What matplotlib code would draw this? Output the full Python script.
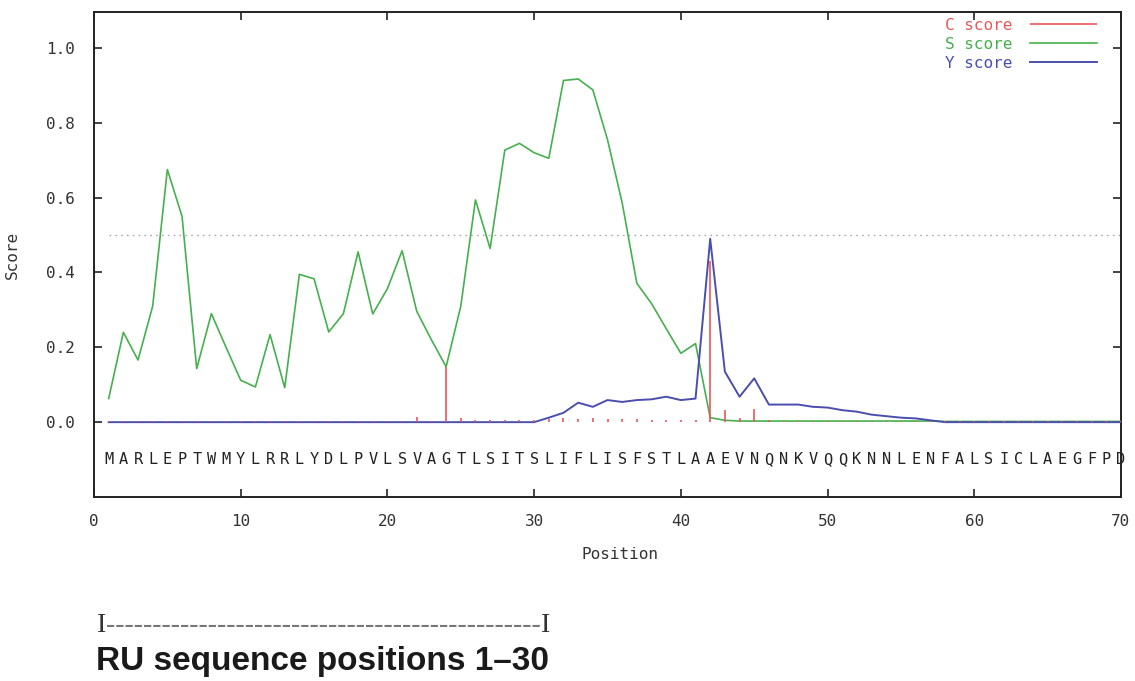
import matplotlib
matplotlib.use("Agg")
import matplotlib.pyplot as plt
import numpy as np

# ---------------- data ----------------
sequence = "MARLEPTWMYLRRLYDLPVLSVAGTLSITSLIFLISFSTLAAEVNQNKVQQKNNLENFALSICLAEGFPD"
positions = list(range(1, 71))

s_score = [0.063, 0.240, 0.166, 0.310, 0.675, 0.550, 0.143, 0.290, 0.200, 0.112,
           0.094, 0.234, 0.092, 0.395, 0.383, 0.241, 0.290, 0.455, 0.289, 0.357,
           0.458, 0.296, 0.220, 0.148, 0.310, 0.594, 0.464, 0.727, 0.745, 0.720,
           0.705, 0.913, 0.917, 0.888, 0.755, 0.586, 0.371, 0.317, 0.250, 0.184,
           0.210, 0.012, 0.005, 0.003, 0.003, 0.003, 0.003, 0.003, 0.003, 0.003,
           0.003, 0.003, 0.003, 0.003, 0.003, 0.003, 0.003, 0.002, 0.002, 0.002,
           0.002, 0.002, 0.002, 0.002, 0.002, 0.002, 0.002, 0.002, 0.002, 0.002]

y_score = [0.0, 0.0, 0.0, 0.0, 0.0, 0.0, 0.0, 0.0, 0.0, 0.0,
           0.0, 0.0, 0.0, 0.0, 0.0, 0.0, 0.0, 0.0, 0.0, 0.0,
           0.0, 0.0, 0.0, 0.0, 0.0, 0.0, 0.0, 0.0, 0.0, 0.0,
           0.012, 0.025, 0.052, 0.041, 0.059, 0.054, 0.059, 0.061, 0.068, 0.059,
           0.063, 0.490, 0.135, 0.068, 0.117, 0.047, 0.047, 0.047, 0.041, 0.039,
           0.032, 0.028, 0.020, 0.016, 0.012, 0.010, 0.005, 0.0, 0.0, 0.0,
           0.0, 0.0, 0.0, 0.0, 0.0, 0.0, 0.0, 0.0, 0.0, 0.0]

c_score = [0.003, 0.003, 0.003, 0.003, 0.003, 0.003, 0.003, 0.003, 0.003, 0.003,
           0.003, 0.003, 0.003, 0.003, 0.003, 0.003, 0.003, 0.003, 0.003, 0.003,
           0.004, 0.014, 0.004, 0.148, 0.012, 0.005, 0.005, 0.005, 0.005, 0.006,
           0.008, 0.010, 0.008, 0.010, 0.008, 0.008, 0.008, 0.006, 0.006, 0.006,
           0.006, 0.430, 0.032, 0.012, 0.036, 0.005, 0.004, 0.004, 0.004, 0.004,
           0.004, 0.004, 0.004, 0.004, 0.004, 0.004, 0.004, 0.004, 0.004, 0.004,
           0.004, 0.004, 0.004, 0.004, 0.004, 0.004, 0.004, 0.004, 0.004, 0.004]

threshold = 0.5
series_labels = ["C score", "S score", "Y score"]
series_colors = ["#e8585a", "#46b04e", "#4a4fae"]
y_ticks = [0.0, 0.2, 0.4, 0.6, 0.8, 1.0]
x_ticks = [0, 10, 20, 30, 40, 50, 60, 70]
footer_title = "RU sequence positions 1\u201330"

# ---------------- figure ----------------
W, H = 1135, 681
fig = plt.figure(figsize=(W / 100, H / 100), dpi=100)
ax = fig.add_axes([94 / W, 1 - 497 / H, (1121 - 94) / W, (497 - 12) / H])

mono = ["DejaVu Sans Mono"]
txt_col = "#333333"
fs = 11.5

ax.hlines(threshold, 1, 70, colors="#aaaaaa", linestyles=(0, (1.2, 3.0)), lw=1.0)
ax.plot(positions, s_score, color=series_colors[1], lw=1.2, label=series_labels[1], zorder=3)
ax.plot(positions, y_score, color=series_colors[2], lw=1.4, label=series_labels[2], zorder=4)
ax.vlines(positions, 0, c_score, colors=series_colors[0], lw=1.2, label=series_labels[0], zorder=5)

for p, aa in zip(positions, sequence):
    ax.text(p, -0.1, aa, ha="center", va="center", family=mono, fontsize=11, color="#222222")

ax.set_xlim(0, 70)
ax.set_ylim(-0.2, 1.096)
ax.set_xticks(x_ticks)
ax.set_yticks(y_ticks)
ax.set_xticklabels([str(t) for t in x_ticks], family=mono, fontsize=fs, color=txt_col)
ax.set_yticklabels(["%.1f" % t for t in y_ticks], family=mono, fontsize=fs, color=txt_col)
ax.tick_params(axis="both", direction="in", length=6, width=1.2, color="#222222",
               top=True, right=True)
ax.tick_params(axis="y", pad=14)
ax.tick_params(axis="x", pad=12)
for sp in ax.spines.values():
    sp.set_color("#222222")
    sp.set_linewidth(1.4)

ax.set_xlabel("Position", family=mono, fontsize=fs, color=txt_col)
ax.set_ylabel("Score", family=mono, fontsize=fs, color=txt_col)
ax.xaxis.set_label_coords(0.512, -0.103)
ax.yaxis.set_label_coords(-0.072, 0.5)

handles, labels = ax.get_legend_handles_labels()
order = [labels.index(l) for l in series_labels]
leg = ax.legend([handles[i] for i in order], [labels[i] for i in order],
                loc="upper right", bbox_to_anchor=(0.977, 0.988), frameon=False,
                markerfirst=False, handlelength=4.2, handletextpad=1.1,
                labelspacing=0.25, borderaxespad=0, borderpad=0,
                prop={"family": mono, "size": fs})
for t, c in zip(leg.get_texts(), series_colors):
    t.set_color(c)

# footer
fig.text(97 / W, 1 - 632 / H, "I", family=["Liberation Serif", "DejaVu Serif"],
         fontsize=20, color="#333333", va="baseline", ha="left")
fig.text(106 / W, 1 - 632 / H, "-" * 47, family=["Liberation Serif", "DejaVu Serif"],
         fontsize=20, color="#777777", va="baseline", ha="left")
fig.text(541 / W, 1 - 632 / H, "I", family=["Liberation Serif", "DejaVu Serif"],
         fontsize=20, color="#333333", va="baseline", ha="left")
fig.text(96 / W, 1 - 670 / H, footer_title, family=["Liberation Sans", "DejaVu Sans"],
         fontsize=24, fontweight="bold", color="#1a1a1a", va="baseline", ha="left")

fig.savefig("out.png", dpi=100)
